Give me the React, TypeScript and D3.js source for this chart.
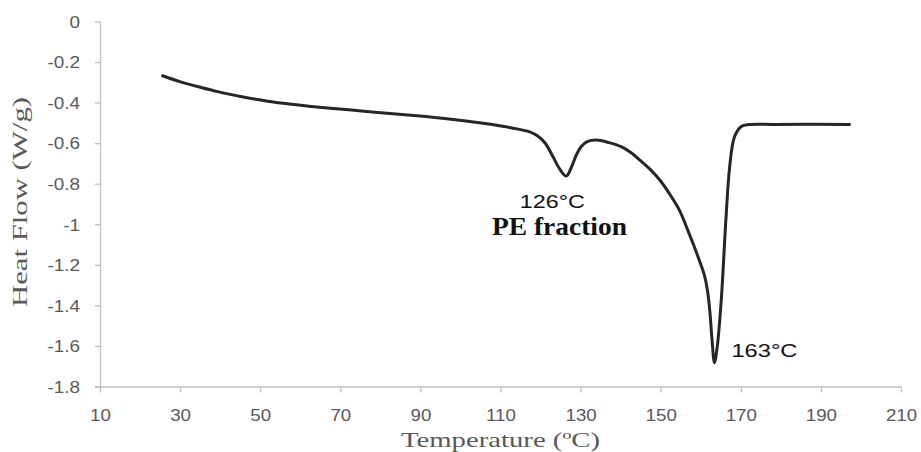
import React from "react";
import * as d3 from "d3";

const temps: number[] = [25.5, 30, 35, 39, 45, 50, 55, 62, 72, 80, 89, 97, 104.6, 110, 114, 117, 119, 121, 123, 124.5, 126.3, 127.5, 128.8, 130, 131.5, 133.8, 137, 140, 142.5, 144.6, 147, 149.6, 152, 154.6, 156.5, 158, 159.6, 160.8, 161.6, 162.2, 162.7, 163.3, 164, 165, 166.2, 167.1, 168.3, 170, 172, 178, 197];
const heatFlow: number[] = [-0.265, -0.295, -0.322, -0.342, -0.367, -0.385, -0.4, -0.415, -0.433, -0.447, -0.462, -0.478, -0.497, -0.513, -0.527, -0.541, -0.56, -0.597, -0.665, -0.72, -0.76, -0.72, -0.656, -0.615, -0.59, -0.582, -0.595, -0.615, -0.645, -0.68, -0.722, -0.778, -0.845, -0.93, -1.02, -1.095, -1.18, -1.25, -1.33, -1.44, -1.57, -1.68, -1.6, -1.37, -0.96, -0.713, -0.566, -0.515, -0.506, -0.505, -0.505];

const xTicks: number[] = [10, 30, 50, 70, 90, 110, 130, 150, 170, 190, 210];
const yTicks: number[] = [0, -0.2, -0.4, -0.6, -0.8, -1, -1.2, -1.4, -1.6, -1.8];

const xTitle = "Temperature (ºC)";
const yTitle = "Heat Flow (W/g)";
const annotations = [
  { text: "126°C", t: 126.3 },
  { text: "163°C", t: 163.3 },
];
const peLabel = "PE fraction";

export default function App() {
  const W = 921;
  const H = 452;
  const x = d3.scaleLinear().domain([10, 210]).range([100.5, 901.5]);
  const y = d3.scaleLinear().domain([0, -1.8]).range([22, 387]);
  const data = temps.map((t, i) => [t, heatFlow[i]] as [number, number]);
  const line = d3
    .line<[number, number]>()
    .x((d) => x(d[0]))
    .y((d) => y(d[1]))
    .curve(d3.curveCatmullRom.alpha(0.5));
  const axisColor = "#bfbfbf";
  const labelColor = "#595959";
  const sans = "'Liberation Sans', Arial, sans-serif";
  const serif = "'Liberation Serif', 'Times New Roman', serif";

  return (
    <svg
      width={W}
      height={H}
      style={{ position: "absolute", left: 0, top: 0, background: "#fff" }}
    >
      <rect x={0} y={0} width={W} height={H} fill="#fff" />
      {/* y axis */}
      <line x1={x(10)} x2={x(10)} y1={y(0)} y2={y(-1.8)} stroke={axisColor} strokeWidth={1.3} />
      {yTicks.map((v) => (
        <g key={"y" + v}>
          <line x1={x(10) - 5.5} x2={x(10)} y1={y(v)} y2={y(v)} stroke={axisColor} strokeWidth={1.3} />
          <g transform={`translate(80,${y(v)}) scale(1.18,1)`}>
            <text
              x={0}
              y={0}
              dy="0.36em"
              textAnchor="end"
              fontFamily={sans}
              fontSize={16}
              fill={labelColor}
            >
              {String(v)}
            </text>
          </g>
        </g>
      ))}
      {/* x axis */}
      <line x1={x(10) - 5.5} x2={x(210)} y1={y(-1.8)} y2={y(-1.8)} stroke={axisColor} strokeWidth={1.3} />
      {xTicks.map((t) => (
        <g key={"x" + t}>
          <line x1={x(t)} x2={x(t)} y1={y(-1.8)} y2={y(-1.8) + 5.5} stroke={axisColor} strokeWidth={1.3} />
          <g transform={`translate(${x(t)},421) scale(1.17,1)`}>
            <text x={0} y={0} textAnchor="middle" fontFamily={sans} fontSize={16} fill={labelColor}>
              {String(t)}
            </text>
          </g>
        </g>
      ))}
      {/* titles */}
      <text
        x={401}
        y={447}
        fontFamily={serif}
        fontSize={21}
        fill={labelColor}
        textLength={199}
        lengthAdjust="spacingAndGlyphs"
      >
        {xTitle}
      </text>
      <text
        transform="translate(27,307) rotate(-90)"
        x={0}
        y={0}
        fontFamily={serif}
        fontSize={20}
        fill={labelColor}
        textLength={210}
        lengthAdjust="spacingAndGlyphs"
      >
        {yTitle}
      </text>
      {/* curve */}
      <path d={line(data) || ""} fill="none" stroke="#262626" strokeWidth={3} strokeLinejoin="round" strokeLinecap="round" />
      {/* annotations */}
      <text
        x={x(annotations[0].t) - 46.5}
        y={208}
        fontFamily={sans}
        fontSize={18.6}
        fill="#111"
        textLength={65}
        lengthAdjust="spacingAndGlyphs"
      >
        {annotations[0].text}
      </text>
      <text
        x={x(annotations[1].t) + 17}
        y={357}
        fontFamily={sans}
        fontSize={18.6}
        fill="#111"
        textLength={66}
        lengthAdjust="spacingAndGlyphs"
      >
        {annotations[1].text}
      </text>
      <text
        x={492}
        y={235}
        fontFamily={serif}
        fontWeight="bold"
        fontSize={25}
        fill="#111"
        textLength={135}
        lengthAdjust="spacingAndGlyphs"
      >
        {peLabel}
      </text>
    </svg>
  );
}
